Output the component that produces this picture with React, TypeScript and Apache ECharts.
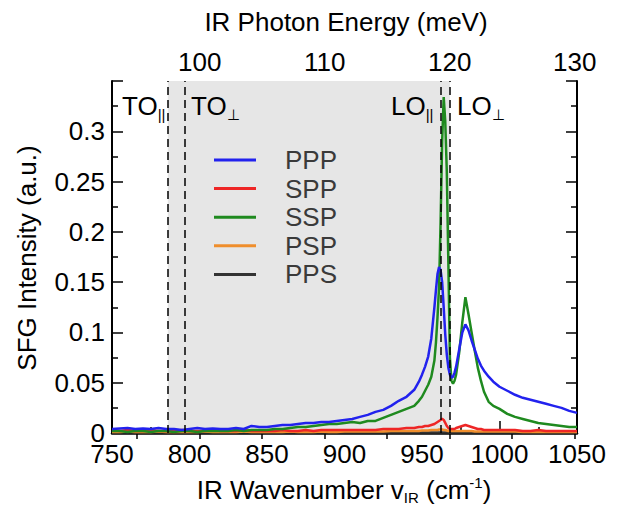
import React, { useEffect, useRef } from "react";
import * as echarts from "echarts";

// wavenumber grid (cm^-1)
const wavenumbers = [
  750, 755, 760, 765, 770, 775, 780, 785, 790, 795,
  800, 805, 810, 815, 820, 825, 830, 835, 840, 845,
  850, 855, 860, 865, 870, 875, 880, 885, 890, 895,
  900, 905, 910, 915, 920, 925, 930, 935, 940, 945,
  948, 950, 952, 954, 956, 958, 959, 960, 961, 962,
  963, 964, 965, 966, 967, 968, 969, 970, 971, 972,
  974, 976, 978, 980, 982, 984, 986, 988, 990, 993,
  996, 1000, 1005, 1010, 1015, 1020, 1025, 1030, 1035, 1040,
  1045, 1050,
];

const PPP = [
  0.004, 0.0045, 0.005, 0.004, 0.0045, 0.004, 0.005, 0.004, 0.004, 0.003,
  0.004, 0.005, 0.004, 0.0045, 0.004, 0.004, 0.005, 0.004, 0.007, 0.006,
  0.006, 0.007, 0.008, 0.008, 0.009, 0.01, 0.01, 0.011, 0.011, 0.012,
  0.013, 0.014, 0.016, 0.018, 0.021, 0.023, 0.027, 0.032, 0.036, 0.043,
  0.051, 0.058, 0.066, 0.076, 0.094, 0.125, 0.142, 0.158, 0.165, 0.162,
  0.15, 0.125, 0.098, 0.078, 0.065, 0.058, 0.055, 0.056, 0.06, 0.066,
  0.083, 0.1, 0.108, 0.102, 0.092, 0.083, 0.074, 0.067, 0.062, 0.056,
  0.051, 0.046, 0.042, 0.038, 0.035, 0.033, 0.031, 0.029, 0.027, 0.025,
  0.022, 0.02,
];

const SPP = [
  0.003, 0.002, 0.003, 0.002, 0.002, 0.003, 0.002, 0.002, 0.002, 0.003,
  0.002, 0.002, 0.002, 0.003, 0.002, 0.002, 0.002, 0.003, 0.002, 0.002,
  0.002, 0.002, 0.003, 0.002, 0.002, 0.003, 0.002, 0.003, 0.003, 0.003,
  0.003, 0.003, 0.003, 0.003, 0.003, 0.004, 0.004, 0.004, 0.005, 0.005,
  0.006, 0.006, 0.007, 0.007, 0.008, 0.009, 0.01, 0.011, 0.012, 0.013,
  0.014, 0.013, 0.01, 0.007, 0.005, 0.004, 0.004, 0.004, 0.004, 0.005,
  0.006, 0.007, 0.008, 0.007, 0.006, 0.005, 0.004, 0.004, 0.003, 0.003,
  0.003, 0.003, 0.003, 0.003, 0.002, 0.002, 0.003, 0.002, 0.002, 0.002,
  0.002, 0.002,
];

const SSP = [
  0.002, 0.002, 0.001, 0.002, 0.002, 0.001, 0.002, 0.002, 0.001, 0.002,
  0.002, 0.001, 0.002, 0.002, 0.002, 0.002, 0.003, 0.002, 0.003, 0.003,
  0.003, 0.004, 0.004, 0.005, 0.006, 0.006, 0.007, 0.008, 0.009, 0.009,
  0.01, 0.011, 0.01, 0.012, 0.012, 0.015, 0.018, 0.021, 0.024, 0.027,
  0.032, 0.036, 0.042, 0.048, 0.056, 0.072, 0.09, 0.115, 0.145, 0.21,
  0.29, 0.334, 0.31, 0.26, 0.17, 0.075, 0.052, 0.049, 0.052, 0.058,
  0.08, 0.11, 0.135, 0.118, 0.1, 0.082, 0.065, 0.052, 0.041, 0.031,
  0.027, 0.024, 0.019, 0.016, 0.014, 0.012, 0.01, 0.009, 0.008, 0.007,
  0.006, 0.006,
];

const PSP = [
  0.001, 0.001, 0.0015, 0.001, 0.001, 0.001, 0.0015, 0.001, 0.001, 0.001,
  0.001, 0.001, 0.0015, 0.001, 0.001, 0.001, 0.001, 0.0015, 0.001, 0.001,
  0.001, 0.001, 0.001, 0.0015, 0.001, 0.001, 0.001, 0.0015, 0.001, 0.001,
  0.0015, 0.0015, 0.0015, 0.0015, 0.0015, 0.0015, 0.002, 0.002, 0.002, 0.002,
  0.002, 0.0025, 0.0025, 0.0025, 0.003, 0.003, 0.003, 0.003, 0.0035, 0.0035,
  0.0035, 0.003, 0.003, 0.0025, 0.002, 0.002, 0.002, 0.002, 0.002, 0.002,
  0.002, 0.002, 0.002, 0.002, 0.002, 0.0015, 0.0015, 0.0015, 0.0015, 0.0015,
  0.0015, 0.0015, 0.0015, 0.0015, 0.001, 0.001, 0.001, 0.001, 0.001, 0.001,
  0.001, 0.001,
];

const PPS = wavenumbers.map(() => 0.0004);

// phonon mode positions (cm^-1)
const TO_PAR = 786;
const TO_PERP = 797;
const LO_PAR = 962.3;
const LO_PERP = 968;

// top axis (meV)
const meVTicks = [95, 100, 105, 110, 115, 120, 125, 130];
const meVLabels = [100, 110, 120, 130];
const CM_PER_MEV = 8.0655;

const seriesNames = ["PPP", "SPP", "SSP", "PSP", "PPS"];
const seriesColors = ["#2222ee", "#ee2626", "#1f8a1f", "#ef8e2c", "#333333"];
const seriesValues = [PPP, SPP, SSP, PSP, PPS];

const FONT = "Liberation Sans, Arial, Helvetica, sans-serif";
const FS = 26;

export default function App() {
  const ref = useRef<HTMLDivElement>(null);
  useEffect(() => {
    document.body.style.margin = "0";
    if (!ref.current) return;
    const chart = echarts.init(ref.current, null, { renderer: "svg" });
    const axisLine = { show: true, lineStyle: { color: "#000", width: 2 } };
    const tickStyle = { color: "#000", width: 1.5 };
    const yFmt = (v: number) => (v === 0 ? "0" : String(+v.toFixed(2)));

    const dataSeries = seriesNames.map((name, k) => ({
      name,
      type: "line",
      xAxisIndex: 0,
      yAxisIndex: 0,
      showSymbol: false,
      symbol: "none",
      z: 3,
      lineStyle: { color: seriesColors[k], width: 2.5 },
      itemStyle: { color: seriesColors[k] },
      data: wavenumbers.map((w, i) => [w, seriesValues[k][i]]),
    }));
    // draw order: PPS, PSP, SPP, SSP, PPP on top
    const ordered = [dataSeries[4], dataSeries[3], dataSeries[1], dataSeries[2], dataSeries[0]];

    const annotations = [
      { x: 122, main: "TO", sub: "||" },
      { x: 191, main: "TO", sub: "⊥" },
      { x: 391, main: "LO", sub: "||" },
      { x: 457, main: "LO", sub: "⊥" },
    ];

    const option: any = {
      animation: false,
      grid: { left: 112, right: 53, top: 81, bottom: 75 },
      legend: {
        data: seriesNames,
        orient: "vertical",
        left: 209,
        top: 142,
        icon: "rect",
        itemWidth: 42,
        itemHeight: 3,
        itemGap: 2.6,
        formatter: (n: string) => `{n|${n}}`,
        textStyle: {
          color: "#3a3a3a",
          fontSize: FS,
          fontFamily: FONT,
          lineHeight: 20,
          rich: { n: { fontSize: FS, fontFamily: FONT, color: "#3a3a3a", padding: [0, 0, 0, 24], lineHeight: 20 } },
        },
      },
      xAxis: [
        {
          type: "value",
          position: "bottom",
          min: 750,
          max: 1050,
          interval: 50,
          axisLine: { show: true, lineStyle: { color: "#000", width: 2.5 } },
          axisTick: { inside: true, length: 12, lineStyle: tickStyle },
          minorTick: { show: true, splitNumber: 2, length: 6, lineStyle: tickStyle },
          axisLabel: { color: "#000", fontSize: FS, fontFamily: FONT, margin: 8, formatter: (v: number) => String(v) },
          splitLine: { show: false },
        },
        {
          type: "value",
          position: "top",
          min: 750,
          max: 1050,
          axisLine,
          axisTick: { inside: true, length: 6, lineStyle: tickStyle, customValues: meVTicks.map((m) => m * CM_PER_MEV) },
          axisLabel: {
            color: "#000",
            fontSize: FS,
            fontFamily: FONT,
            margin: 6,
            customValues: meVLabels.map((m) => m * CM_PER_MEV),
            formatter: (v: number) => String(Math.round(v / CM_PER_MEV)),
          },
          splitLine: { show: false },
        },
      ],
      yAxis: [
        {
          type: "value",
          position: "left",
          min: 0,
          max: 0.35,
          interval: 0.05,
          axisLine,
          axisTick: { inside: true, length: 11, lineStyle: tickStyle },
          minorTick: { show: true, splitNumber: 2, length: 6, lineStyle: tickStyle },
          axisLabel: { color: "#000", fontSize: FS, fontFamily: FONT, margin: 7, showMaxLabel: false, formatter: yFmt },
          splitLine: { show: false },
        },
        {
          type: "value",
          position: "right",
          min: 0,
          max: 0.35,
          interval: 0.05,
          axisLine,
          axisTick: { inside: true, length: 11, lineStyle: tickStyle },
          minorTick: { show: true, splitNumber: 2, length: 6, lineStyle: tickStyle },
          axisLabel: { show: false },
          splitLine: { show: false },
        },
      ],
      series: [
        {
          type: "line",
          name: "regions",
          xAxisIndex: 0,
          yAxisIndex: 0,
          data: [],
          z: 1,
          silent: true,
          markArea: {
            silent: true,
            itemStyle: { color: "#e6e6e6" },
            data: [[{ xAxis: TO_PAR }, { xAxis: LO_PERP }]],
          },
          markLine: {
            silent: true,
            symbol: "none",
            label: { show: false },
            lineStyle: { color: "#000", width: 1.5, type: [8, 5] },
            data: [{ xAxis: TO_PAR }, { xAxis: TO_PERP }, { xAxis: LO_PAR }, { xAxis: LO_PERP }],
          },
        },
        ...ordered,
      ],
      graphic: [
        {
          type: "text",
          x: 346,
          y: 22,
          style: { text: "IR Photon Energy (meV)", align: "center", verticalAlign: "middle", fontSize: FS, fontFamily: FONT, fill: "#000" },
        },
        {
          type: "text",
          x: 344,
          y: 490,
          style: {
            text: "{a|IR Wavenumber v}{b|IR}{a| (cm}{c|-1}{a|)}",
            align: "center",
            verticalAlign: "middle",
            fill: "#000",
            rich: {
              a: { fontSize: FS, fontFamily: FONT, fill: "#000", lineHeight: 30 },
              b: { fontSize: 15, fontFamily: FONT, fill: "#000", verticalAlign: "bottom", lineHeight: 22 },
              c: { fontSize: 15, fontFamily: FONT, fill: "#000", verticalAlign: "top", lineHeight: 22 },
            },
          },
        },
        {
          type: "text",
          rotation: Math.PI / 2,
          x: 27,
          y: 258,
          style: { text: "SFG Intensity (a.u.)", align: "center", verticalAlign: "middle", fontSize: FS, fontFamily: FONT, fill: "#000" },
        },
        ...annotations.map((a) => ({
          type: "text",
          z: 10,
          x: a.x,
          y: 106,
          style: {
            text: `{m|${a.main}}{s|${a.sub}}`,
            align: "left",
            verticalAlign: "middle",
            fill: "#000",
            rich: {
              m: { fontSize: FS, fontFamily: FONT, fill: "#000", lineHeight: 32 },
              s: { fontSize: 15, fontFamily: FONT, fill: "#000", verticalAlign: "bottom", lineHeight: 22 },
            },
          },
        })),
      ],
    };
    chart.setOption(option);
    return () => chart.dispose();
  }, []);
  return <div ref={ref} style={{ width: 630, height: 508 }} />;
}
